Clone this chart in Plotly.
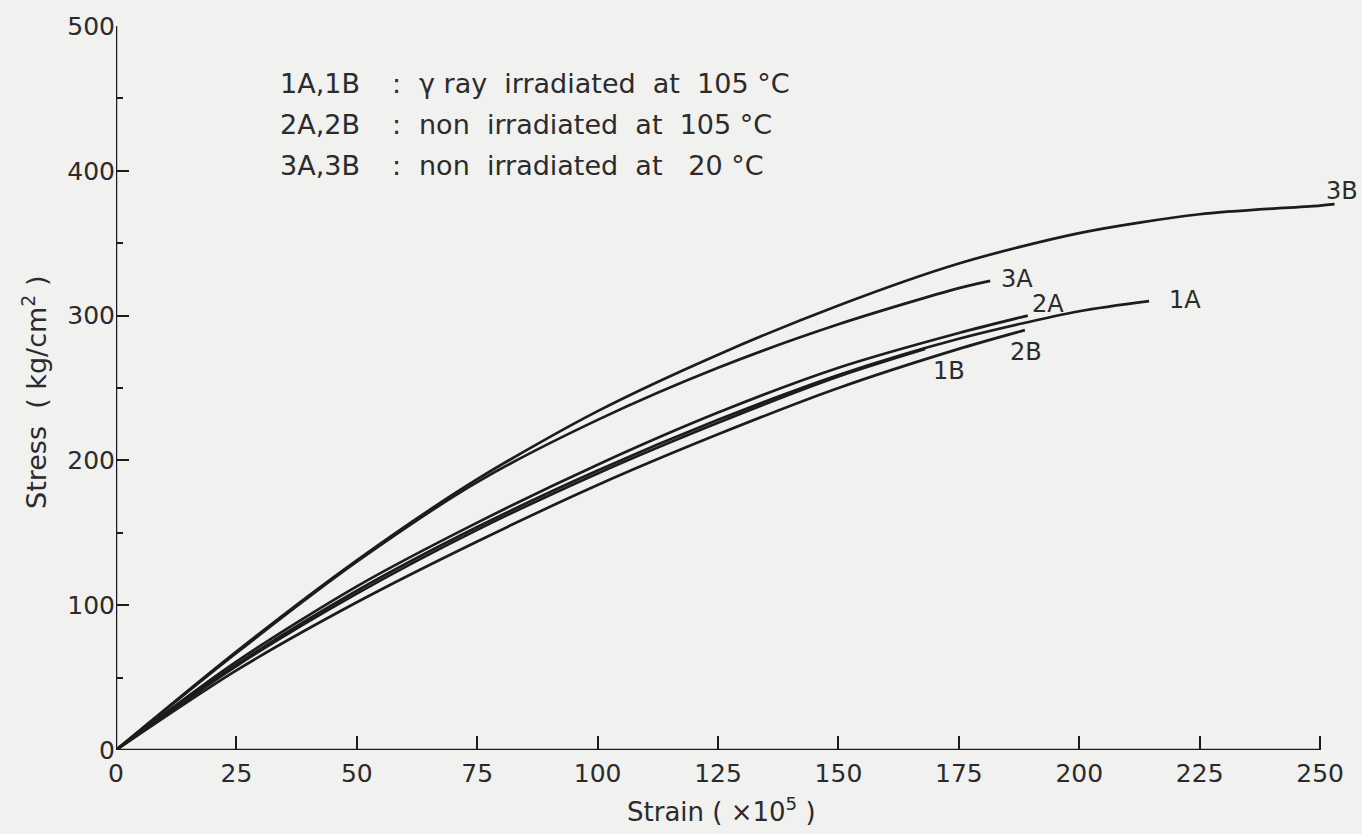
import plotly.graph_objects as go

# ---- data ----
x_3B = [0, 25, 50, 75, 100, 125, 150, 175, 200, 225, 250, 253]
y_3B = [0, 68, 131, 187, 234, 273, 307, 336, 357, 370, 376, 377]

x_3A = [0, 25, 50, 75, 100, 125, 150, 175, 181.5]
y_3A = [0, 67, 130, 185, 228, 264, 294, 319, 324]

x_2A = [0, 25, 50, 75, 100, 125, 150, 175, 189.3]
y_2A = [0, 61, 113, 157, 197, 233, 264, 288, 300]

x_1A = [0, 25, 50, 75, 100, 125, 150, 175, 200, 214.5]
y_1A = [0, 59, 110, 154, 193, 228, 259, 284, 303, 310]

x_1B = [0, 25, 50, 75, 100, 125, 150, 168]
y_1B = [0, 58, 108, 152, 191, 226, 258, 277]

x_2B = [0, 25, 50, 75, 100, 125, 150, 175, 188.7]
y_2B = [0, 55, 102, 144, 183, 218, 250, 277, 290]

curve_names = ["3B", "3A", "2A", "1A", "1B", "2B"]
label_x = [254.5, 187, 193.6, 221.9, 173, 189]
label_y = [386, 325, 308, 311, 262, 275]

x_ticks = [0, 25, 50, 75, 100, 125, 150, 175, 200, 225, 250]
y_ticks = [0, 100, 200, 300, 400, 500]

legend_keys = ["1A,1B", "2A,2B", "3A,3B"]
legend_desc = ["γ ray  irradiated  at  105 °C",
               "non  irradiated  at  105 °C",
               "non  irradiated  at   20 °C"]
legend_y = [460, 432, 404]

INK = "#1c1c1c"
TXT = "#2b2b2b"
FONT = "DejaVu Sans"

fig = go.Figure()
series = [(x_3B, y_3B), (x_3A, y_3A), (x_2A, y_2A), (x_1A, y_1A), (x_1B, y_1B), (x_2B, y_2B)]
for (xs, ys), nm in zip(series, curve_names):
    fig.add_trace(go.Scatter(x=xs, y=ys, mode="lines", name=nm,
                             line=dict(color=INK, width=2.7, shape="spline", smoothing=0.8),
                             showlegend=False, cliponaxis=False, hoverinfo="skip"))

# axis lines
fig.add_shape(type="line", xref="x", yref="y", x0=0, y0=0, x1=250, y1=0,
              line=dict(color=INK, width=2.5))
fig.add_shape(type="line", xref="x", yref="y", x0=0, y0=0, x1=0, y1=500,
              line=dict(color=INK, width=2.5))

# curve labels
for nm, lx, ly in zip(curve_names, label_x, label_y):
    fig.add_annotation(x=lx, y=ly, xref="x", yref="y", text=nm, showarrow=False,
                       font=dict(family=FONT, size=24, color=TXT))

# legend text block
for k, d, ly in zip(legend_keys, legend_desc, legend_y):
    fig.add_annotation(x=33.6, y=ly, xref="x", yref="y", text=k, showarrow=False,
                       xanchor="left", font=dict(family=FONT, size=27, color=TXT))
    fig.add_annotation(x=58.3, y=ly, xref="x", yref="y", text=":", showarrow=False,
                       font=dict(family=FONT, size=27, color=TXT))
    fig.add_annotation(x=62.5, y=ly, xref="x", yref="y", text=d, showarrow=False,
                       xanchor="left", font=dict(family=FONT, size=27, color=TXT))

# axis titles (paper coordinates)
fig.add_annotation(x=0.4907, y=-0.083, xref="paper", yref="paper",
                   xanchor="center", yanchor="middle",
                   text="Strain ( ×10<sup>5</sup> )", showarrow=False,
                   font=dict(family=FONT, size=26, color=TXT))
fig.add_annotation(x=-0.0657, y=0.4945, xref="paper", yref="paper",
                   xanchor="center", yanchor="middle",
                   text="Stress  ( kg/cm<sup>2</sup> )", showarrow=False, textangle=-90,
                   font=dict(family=FONT, size=27, color=TXT))

fig.update_layout(
    width=1362, height=834,
    margin=dict(l=116, r=13, t=24, b=84),
    paper_bgcolor="#f1f1ef", plot_bgcolor="#f1f1ef",
    xaxis=dict(range=[0, 256], tickvals=x_ticks, ticktext=[str(v) for v in x_ticks],
               ticks="inside", ticklen=14, tickwidth=2.2, tickcolor=INK,
               ticklabelstandoff=6,
               showline=False, showgrid=False, zeroline=False,
               tickfont=dict(family=FONT, size=25, color=TXT)),
    yaxis=dict(range=[0, 500], tickvals=y_ticks, ticktext=[str(v) for v in y_ticks],
               ticks="inside", ticklen=13, tickwidth=2.2, tickcolor=INK,
               minor=dict(tickvals=[50, 150, 250, 350, 450], ticks="inside", ticklen=7,
                          tickwidth=2.2, tickcolor=INK),
               showline=False, showgrid=False, zeroline=False,
               tickfont=dict(family=FONT, size=25, color=TXT)),
)

fig.write_html("out.html", config={"displayModeBar": False},
               post_script="document.body.style.margin='0';document.body.style.background='#f1f1ef';")
